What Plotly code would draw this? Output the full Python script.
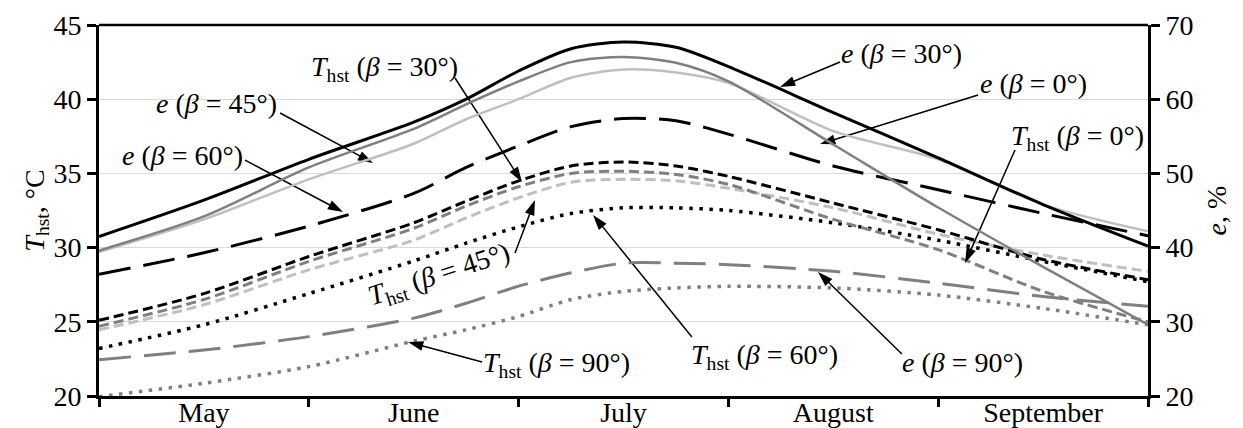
import plotly.graph_objects as go

# x positions in months (0 = start of May, 5 = end of September)
months_pos = [0, 0.5, 1, 1.5, 1.75, 2, 2.25, 2.5, 2.75, 3, 3.5, 4, 4.5, 5]
month_labels = ["May", "June", "July", "August", "September"]

# heat-storage temperature T_hst, degC (left axis)
t_hst_0 = [24.7, 26.5, 29.07, 31.3, 32.8, 34.1, 35.0, 35.15, 34.93, 34.26, 31.9, 29.86, 27.05, 25.0]
t_hst_30 = [25.1, 26.9, 29.4, 31.67, 33.13, 34.5, 35.5, 35.77, 35.5, 34.8, 33.0, 31.2, 29.2, 27.84]
t_hst_45 = [24.46, 26.15, 28.5, 30.5, 32.0, 33.36, 34.4, 34.6, 34.5, 34.0, 32.68, 30.9, 29.5, 28.4]
t_hst_60 = [23.2, 24.8, 26.9, 29.1, 30.3, 31.4, 32.3, 32.68, 32.68, 32.5, 31.67, 30.5, 29.07, 27.7]
t_hst_90 = [19.95, 20.86, 21.98, 23.7, 24.46, 25.36, 26.5, 27.05, 27.28, 27.39, 27.28, 26.8, 25.9, 24.8]

# efficiency e, % (right axis)
e_0 = [39.6, 44.2, 50.8, 56.0, 59.3, 62.4, 65.0, 65.7, 64.9, 62.4, 53.9, 45.4, 37.4, 29.6]
e_30 = [41.5, 46.4, 51.9, 56.9, 60.0, 63.8, 66.8, 67.7, 67.0, 64.4, 58.2, 52.1, 45.8, 40.2]
e_45 = [39.4, 43.8, 49.2, 54.0, 57.3, 60.0, 62.9, 64.0, 63.6, 62.2, 55.7, 51.9, 45.8, 42.2]
e_60 = [36.4, 39.3, 42.9, 47.3, 50.8, 53.7, 56.3, 57.4, 57.1, 55.3, 51.0, 47.8, 44.6, 41.6]
e_90 = [24.9, 26.2, 28.0, 30.5, 32.5, 34.8, 36.6, 37.9, 37.9, 37.7, 36.8, 35.2, 33.4, 32.1]

FONT = "Liberation Serif, Times New Roman, serif"
FS = 28
BLACK = "#000000"
MID = "#7f7f7f"
LIGHT = "#bfbfbf"

fig = go.Figure()

def add(y, color, width, dash, yaxis="y", name=""):
    fig.add_trace(go.Scatter(
        x=months_pos, y=y, mode="lines", yaxis=yaxis, name=name,
        line=dict(color=color, width=width, dash=dash, shape="spline", smoothing=0.8),
        showlegend=False, hoverinfo="skip"))

# T_hst series
add(t_hst_90, MID, 3.5, "3.5px,6.5px", name="T_hst 90")
add(t_hst_60, BLACK, 3.5, "3.5px,6.5px", name="T_hst 60")
add(t_hst_45, LIGHT, 3, "10px,5px", name="T_hst 45")
add(t_hst_0, MID, 3, "10px,5px", name="T_hst 0")
add(t_hst_30, BLACK, 3, "10px,5px", name="T_hst 30")
# e series
add(e_90, MID, 3, "32px,13px", "y2", name="e 90")
add(e_60, BLACK, 3, "32px,13px", "y2", name="e 60")
add(e_45, LIGHT, 2.5, "solid", "y2", name="e 45")
add(e_0, MID, 2.5, "solid", "y2", name="e 0")
add(e_30, BLACK, 3, "solid", "y2", name="e 30")

# labels with arrows: (text, text_x, text_y, arrow_start_x, arrow_start_y, tip_x, tip_y, angle)
labels = [
    ("<i>T</i><sub>hst</sub> (<i>β</i> = 30°)", 1.363, 42.1, 1.697, 41.43, 2.016, 34.42, 0),
    ("<i>e</i> (<i>β</i> = 45°)", 0.562, 39.74, 0.863, 39.07, 1.306, 35.70, 0),
    ("<i>e</i> (<i>β</i> = 60°)", 0.400, 36.24, 0.696, 35.90, 1.163, 32.40, 0),
    ("<i>e</i> (<i>β</i> = 30°)", 3.827, 43.11, 3.532, 42.51, 3.246, 40.82, 0),
    ("<i>e</i> (<i>β</i> = 0°)", 4.452, 41.09, 4.190, 40.28, 3.437, 36.98, 0),
    ("<i>T</i><sub>hst</sub> (<i>β</i> = 0°)", 4.666, 37.45, 4.366, 36.58, 4.128, 28.96, 0),
    ("<i>T</i><sub>hst</sub> (<i>β</i> = 45°)", 1.625, 28.09, 1.983, 29.64, 2.078, 33.21, -18),
    ("<i>T</i><sub>hst</sub> (<i>β</i> = 90°)", 2.183, 22.09, 1.826, 22.29, 1.473, 23.64, 0),
    ("<i>T</i><sub>hst</sub> (<i>β</i> = 60°)", 3.174, 22.63, 2.826, 23.98, 2.355, 32.20, 0),
    ("<i>e</i> (<i>β</i> = 90°)", 4.118, 22.29, 3.827, 22.83, 3.427, 28.36, 0),
]
annotations = []
for text, tx, ty, ax, ay, px, py, ang in labels:
    annotations.append(dict(
        x=tx, y=ty, xref="x", yref="y", text=text, showarrow=False,
        xanchor="center", yanchor="middle",
        textangle=ang, font=dict(family=FONT, size=FS, color="black")))
    # leader arrow: thin line ending in a filled arrowhead at the curve
    fig.add_trace(go.Scatter(
        x=[ax, px], y=[ay, py], mode="lines+markers",
        line=dict(color="black", width=1.5),
        marker=dict(symbol="arrow", angleref="previous", size=16,
                    color="black", line=dict(width=0)),
        showlegend=False, hoverinfo="skip", cliponaxis=False))

fig.update_layout(
    width=1243, height=428,
    margin=dict(l=99, r=95, t=25, b=32),
    paper_bgcolor="white", plot_bgcolor="white",
    font=dict(family=FONT, size=FS, color="black"),
    annotations=annotations,
    shapes=[dict(type="line", xref="paper", yref="paper", x0=0, x1=1, y0=1, y1=1,
                 line=dict(color="black", width=2.5))],
    xaxis=dict(
        range=[0, 5], tickmode="array", tickvals=[0.5, 1.5, 2.5, 3.5, 4.5],
        ticktext=month_labels, ticks="", showgrid=False, zeroline=False,
        showline=True, linecolor="black", linewidth=3, mirror=False,
        tickfont=dict(family=FONT, size=FS), automargin=False,
        ticklabelstandoff=-11,
        minor=dict(tickmode="array", tickvals=[0, 1, 2, 3, 4, 5], ticks="outside",
                   ticklen=8, tickwidth=2.5, tickcolor="black", showgrid=False),
    ),
    yaxis=dict(
        range=[20, 45], tickmode="linear", tick0=20, dtick=5,
        ticks="outside", ticklen=9, tickwidth=2.5, tickcolor="black",
        showline=True, linecolor="black", linewidth=3, automargin=False,
        showgrid=True, gridcolor="#d9d9d9", gridwidth=1, zeroline=False,
        tickfont=dict(family=FONT, size=FS),
        title=dict(text="<i>T</i><sub>hst</sub>, °C", font=dict(family=FONT, size=FS), standoff=0),
    ),
    yaxis2=dict(
        range=[20, 70], tickmode="linear", tick0=20, dtick=10,
        overlaying="y", side="right", automargin=False,
        ticks="outside", ticklen=9, tickwidth=2.5, tickcolor="black",
        showline=True, linecolor="black", linewidth=3,
        showgrid=False, zeroline=False,
        tickfont=dict(family=FONT, size=FS),
        title=dict(text="<i>e</i>, %", font=dict(family=FONT, size=FS), standoff=14),
    ),
)

fig.write_html("out.html")
